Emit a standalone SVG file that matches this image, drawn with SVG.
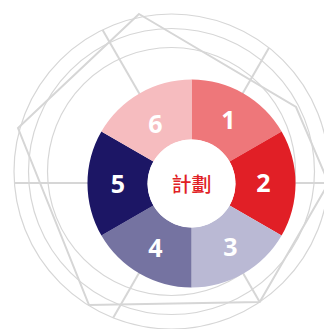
<svg xmlns="http://www.w3.org/2000/svg" width="324" height="329" viewBox="0 0 324 329">
<style>
.ring{fill:none;stroke:#d6d6d6;stroke-width:1.2}
.poly{fill:none;stroke:#d6d6d6;stroke-width:2}
.num{font-family:"Open Sans","Noto Sans",sans-serif;font-weight:700;font-size:25px;fill:#fff;text-anchor:middle}
.ctr{font-family:"Noto Sans CJK TC","Noto Sans CJK SC",sans-serif;font-weight:500;font-size:20px;fill:#e11f26;text-anchor:middle}
</style>
<rect width="324" height="329" fill="#fff"/>
<g id="background">
<circle class="ring" cx="171.5" cy="171.5" r="157.5"/>
<circle class="ring" cx="171.5" cy="171.5" r="143"/>
<circle class="ring" cx="171.5" cy="171.5" r="124"/>
<polygon class="poly" points="139,14 296,107 328.6,183 259.7,302 89,305 18,128"/>
</g>
<g id="connectors">
<line class="poly" x1="191" y1="183" x2="102.6" y2="29.9"/>
<line class="poly" x1="191" y1="183" x2="269" y2="47.8"/>
<line class="poly" x1="191" y1="183" x2="14.4" y2="183"/>
<line class="poly" x1="191" y1="183" x2="328.6" y2="183"/>
<line class="poly" x1="191" y1="183" x2="113.2" y2="317.8"/>
<line class="poly" x1="191" y1="183" x2="259.7" y2="302"/>
</g>
<g id="seg1"><path d="M191.5,79.5 A104,104 0 0 1 281.6,131.5 L229.6,161.5 A44,44 0 0 0 191.5,139.5 Z" fill="#ee777a"/><text class="num" x="228.5" y="128.5">1</text></g>
<g id="seg2"><path d="M281.6,131.5 A104,104 0 0 1 281.6,235.5 L229.6,205.5 A44,44 0 0 0 229.6,161.5 Z" fill="#e11f26"/><text class="num" x="263.5" y="192">2</text></g>
<g id="seg3"><path d="M281.6,235.5 A104,104 0 0 1 191.5,287.5 L191.5,227.5 A44,44 0 0 0 229.6,205.5 Z" fill="#bab9d4"/><text class="num" x="230.5" y="256">3</text></g>
<g id="seg4"><path d="M191.5,287.5 A104,104 0 0 1 101.4,235.5 L153.4,205.5 A44,44 0 0 0 191.5,227.5 Z" fill="#7573a1"/><text class="num" x="155.5" y="256.5">4</text></g>
<g id="seg5"><path d="M101.4,235.5 A104,104 0 0 1 101.4,131.5 L153.4,161.5 A44,44 0 0 0 153.4,205.5 Z" fill="#1c1665"/><text class="num" x="118" y="193">5</text></g>
<g id="seg6"><path d="M101.4,131.5 A104,104 0 0 1 191.5,79.5 L191.5,139.5 A44,44 0 0 0 153.4,161.5 Z" fill="#f6bcbf"/><text class="num" x="155.5" y="132.5">6</text></g>
<g id="center"><circle cx="191.5" cy="183.5" r="44" fill="#fff"/><text class="ctr" x="191.5" y="191.5">計劃</text></g>
</svg>
